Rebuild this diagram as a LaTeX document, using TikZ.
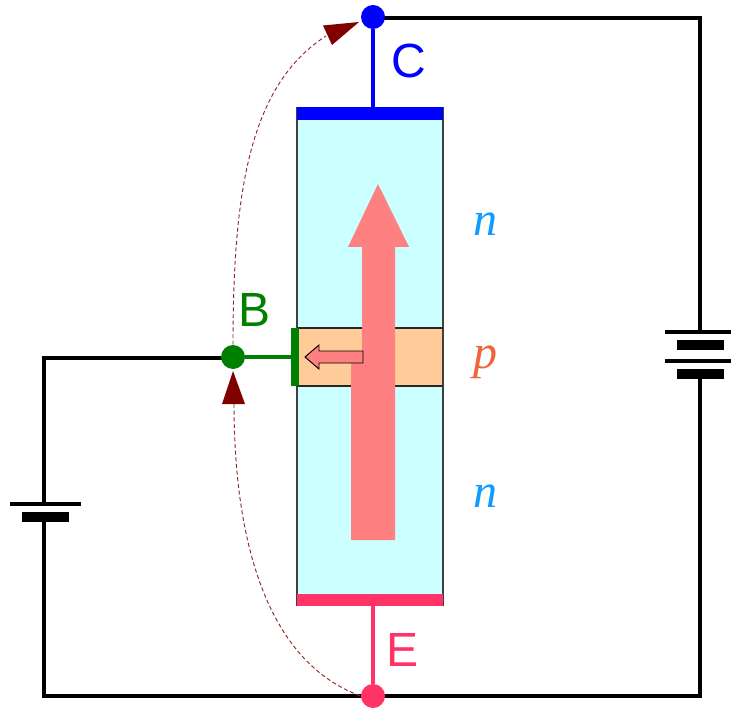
\documentclass[tikz,border=0pt]{standalone}
\usepackage{fontspec}
\setmainfont{Liberation Sans}
\newfontfamily\serifit{Liberation Serif}
\definecolor{bodycyan}{HTML}{CCFFFF}
\definecolor{porange}{HTML}{FFCC99}
\definecolor{flowred}{HTML}{FF8080}
\definecolor{emitred}{HTML}{FF3366}
\definecolor{basegreen}{HTML}{008000}
\definecolor{darkred}{HTML}{800000}
\definecolor{nblue}{HTML}{0F9BFF}
\definecolor{porangetxt}{HTML}{F0643C}
\tikzset{
  wire/.style={line width=3.2pt*0.75,black,line join=miter},
  plate/.style={line width=2.9pt,black},
  plateshort/.style={line width=7.5pt,black},
  dot/.style={circle,inner sep=0pt,minimum size=18pt},
  lead/.style={line width=3.2pt*0.75},
  term/.style={font=\fontsize{36}{36}\selectfont,inner sep=0pt},
  dope/.style={font=\fontsize{36}{36}\selectfont\serifit\itshape,inner sep=0pt},
  hole/.style={dash pattern=on 3pt off 2pt,line width=0.7pt,darkred!85},
  tipshape/.style={fill=darkred,draw=none},
}
\begin{document}
\begin{tikzpicture}[x=0.75pt,y=-0.75pt]
\useasboundingbox (0,0) rectangle (731,709);
% body
\fill[bodycyan] (297,107) rectangle (443,606);
\fill[porange] (297,328) rectangle (443,386);
\draw[line width=0.9pt,black!75] (297,107) -- (297,606) (443,107) -- (443,606);
\draw[line width=0.9pt,black!85] (297,328) -- (443,328) (297,386) -- (443,386);
% big arrow
\fill[flowred] (351,540) -- (351,363) -- (362,363) -- (362,247) -- (348,247) -- (378,184) -- (409,247) -- (395,247) -- (395,540) -- cycle;
% small arrow
\filldraw[fill=flowred,draw=black,line width=0.7pt,line join=miter] (305,357) -- (319,345) -- (319,351) -- (363,351) -- (363,363) -- (319,363) -- (319,369) -- cycle;
% terminal bars
\fill[blue] (297,107) rectangle (443,120);
\fill[emitred] (297,594) rectangle (443,606);
\fill[basegreen] (291,328) rectangle (299,386);
% circuit wires, laid under the terminal dots
\coordinate (cr) at (373,18);
\coordinate (tr) at (700,18);
\coordinate (br) at (700,696);
\coordinate (bl) at (44,696);
\coordinate (ml) at (44,358);
\coordinate (bw) at (233,358);
\coordinate (ew) at (373,696);
\coordinate (rbtop) at (700,332);
\coordinate (rbbot) at (700,373);
\coordinate (lbtop) at (44,504);
\coordinate (lbbot) at (44,516);
\draw[wire] (cr) -- (tr) -- (rbtop);
\draw[wire] (rbbot) -- (br) -- (ew);
\draw[wire] (bw) -- (ml) -- (lbtop);
\draw[wire] (lbbot) -- (bl) -- (ew);
% terminal dots
\node[dot,fill=basegreen] (B) at (233,357) {};
\node[dot,fill=blue] (C) at (373,17) {};
\node[dot,fill=emitred] (E) at (373,696) {};
\coordinate (cbar) at (373,107);
\coordinate (ebar) at (373,594);
\coordinate (bbar) at (291,357);
\draw[lead,blue] (C) -- (cbar);
\draw[lead,emitred] (E) -- (ebar);
\draw[lead,basegreen] (B) -- (bbar);
% batteries
\draw[plate] (665,332) -- (731,332);
\draw[plateshort] (677,344.5) -- (724,344.5);
\draw[plate] (665,361) -- (731,361);
\draw[plateshort] (677,373.5) -- (724,373.5);
\draw[plate] (10,504) -- (81,504);
\draw[plateshort] (22,516.5) -- (69,516.5);
% hole paths
\coordinate (htop) at (326,36);
\coordinate (hbot) at (234,404);
\draw[hole] (B.north) .. controls (233,190) and (250,85) .. (htop);
\draw[hole] (hbot) .. controls (234,530) and (262,660) .. (E.west);
\fill[tipshape] (359,22) -- (323,25.5) -- (332,45) -- cycle;
\fill[tipshape] (233,371) -- (222,404) -- (245,404) -- cycle;
% labels
\node[term,text=blue] (lc) at (408.5,61) {C};
\node[term,text=basegreen] (lb) at (254.5,310) {B};
\node[term,text=emitred] (le) at (403,650) {E};
\node[dope,text=nblue] (n1) at (485,224) {n};
\node[dope,text=porangetxt] (pp) at (485,362) {p};
\node[dope,text=nblue] (n2) at (485,496) {n};
\end{tikzpicture}
\end{document}
